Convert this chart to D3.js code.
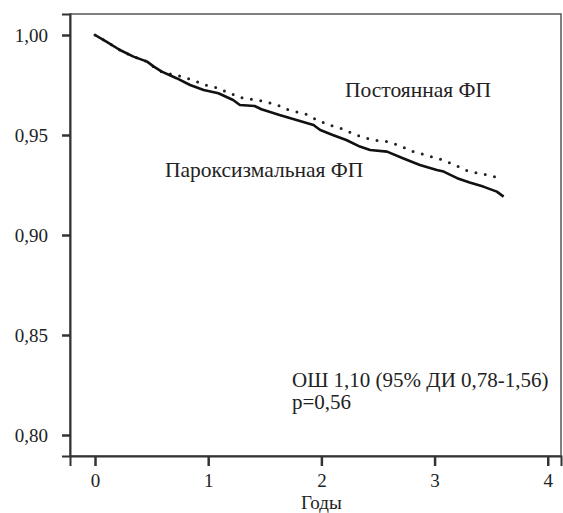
<!DOCTYPE html>
<html>
<head>
<meta charset="utf-8">
<script src="https://cdn.jsdelivr.net/npm/d3@7"></script>
<style>
  body { margin: 0; background: #fff; }
  svg text { font-family: "Liberation Serif", "DejaVu Serif", serif; fill: #222; }
  .axis path, .axis line { stroke: #333; }
</style>
</head>
<body>
<div id="chart"></div>
<script>
// Years since inclusion and survival fraction
var paroxTime = [0, 0.10, 0.22, 0.34, 0.46, 0.52, 0.59, 0.72, 0.84, 0.96, 1.09, 1.22, 1.28, 1.41, 1.47, 1.63, 1.78, 1.93, 1.99, 2.10, 2.22, 2.34, 2.43, 2.58, 2.72, 2.87, 3.02, 3.08, 3.20, 3.31, 3.43, 3.55, 3.61];
var paroxSurv = [1.000, 0.9967, 0.9925, 0.9892, 0.9867, 0.9842, 0.9817, 0.9784, 0.9750, 0.9725, 0.9709, 0.9675, 0.9650, 0.9645, 0.9629, 0.9600, 0.9575, 0.9550, 0.9525, 0.9500, 0.9475, 0.9442, 0.9425, 0.9417, 0.9384, 0.9350, 0.9325, 0.9317, 0.9284, 0.9262, 0.9242, 0.9217, 0.9192];

var persTime = [0, 0.10, 0.22, 0.34, 0.46, 0.55, 0.63, 0.72, 0.81, 0.90, 0.97, 1.05, 1.13, 1.20, 1.25, 1.35, 1.44, 1.53, 1.61, 1.69, 1.77, 1.86, 1.93, 2.00, 2.06, 2.15, 2.24, 2.31, 2.40, 2.49, 2.58, 2.65, 2.72, 2.81, 2.89, 2.97, 3.05, 3.12, 3.20, 3.27, 3.36, 3.43, 3.50, 3.59];
var persSurv = [1.000, 0.9967, 0.9925, 0.9892, 0.9867, 0.9825, 0.9809, 0.9800, 0.9784, 0.9767, 0.9750, 0.9742, 0.9722, 0.9709, 0.9692, 0.9680, 0.9675, 0.9662, 0.9650, 0.9629, 0.9617, 0.9605, 0.9584, 0.9567, 0.9550, 0.9539, 0.9517, 0.9500, 0.9484, 0.9472, 0.9467, 0.9455, 0.9439, 0.9417, 0.9405, 0.9392, 0.9379, 0.9364, 0.9345, 0.9325, 0.9312, 0.9305, 0.9295, 0.9284];

var yTicks = [0.80, 0.85, 0.90, 0.95, 1.00];
var xTicks = [0, 1, 2, 3, 4];
var labelPersistent = "Постоянная ФП";
var labelParoxysmal = "Пароксизмальная ФП";
var statLines = ["ОШ 1,10 (95% ДИ 0,78-1,56)", "p=0,56"];
var xTitle = "Годы";

var W = 563, H = 513;
var margin = {top: 14, right: 2, bottom: 57, left: 70},
    width = W - margin.left - margin.right,
    height = H - margin.top - margin.bottom;

var x = d3.scaleLinear().domain([-0.221, 4.117]).range([0, width]);
var y = d3.scaleLinear().domain([0.7895, 1.0105]).range([height, 0]);

var ru = d3.formatLocale({decimal: ",", thousands: " ", grouping: [3], currency: ["", ""]});

var svg = d3.select("#chart").append("svg")
    .attr("width", W)
    .attr("height", H)
  .append("g")
    .attr("transform", "translate(" + margin.left + "," + margin.top + ")");

// frame
svg.append("rect")
    .attr("width", width)
    .attr("height", height)
    .attr("fill", "none")
    .attr("stroke", "#555")
    .attr("stroke-width", 1.5);

// y axis
var yAxis = svg.append("g")
    .attr("class", "axis")
    .call(d3.axisLeft(y).tickValues(yTicks).tickFormat(ru.format(".2f")).tickSize(8).tickPadding(14));
yAxis.selectAll("text").style("font-size", "19px").attr("fill", "#222");
yAxis.selectAll("line").attr("stroke-width", 2.5);
yAxis.select(".domain").attr("stroke-width", 2);

// x axis
var xAxis = svg.append("g")
    .attr("class", "axis")
    .attr("transform", "translate(0," + height + ")")
    .call(d3.axisBottom(x).tickValues(xTicks).tickFormat(d3.format("d")).tickSize(10).tickPadding(8));
xAxis.selectAll("text").style("font-size", "19px").attr("fill", "#222");
xAxis.selectAll("line").attr("stroke-width", 2.5);
xAxis.select(".domain").attr("stroke-width", 2);

svg.append("text")
    .attr("x", x(2))
    .attr("y", height + 53)
    .attr("text-anchor", "middle")
    .style("font-size", "19px")
    .text(xTitle);

var line = d3.line()
    .x(function(d) { return x(d[0]); })
    .y(function(d) { return y(d[1]); });

var persData = persTime.map(function(t, i) { return [t, persSurv[i]]; });
var paroxData = paroxTime.map(function(t, i) { return [t, paroxSurv[i]]; });

svg.append("path")
    .datum(persData)
    .attr("d", line)
    .attr("fill", "none")
    .attr("stroke", "#222")
    .attr("stroke-width", 3)
    .attr("stroke-linecap", "round")
    .attr("stroke-dasharray", "0,9.5");

svg.append("path")
    .datum(paroxData)
    .attr("d", line)
    .attr("fill", "none")
    .attr("stroke", "#111")
    .attr("stroke-width", 2.6)
    .attr("stroke-linejoin", "round");

// labels
svg.append("text")
    .attr("x", 345 - margin.left)
    .attr("y", 97 - margin.top)
    .style("font-size", "21.5px")
    .text(labelPersistent);

svg.append("text")
    .attr("x", 165 - margin.left)
    .attr("y", 177 - margin.top)
    .style("font-size", "21.5px")
    .text(labelParoxysmal);

svg.selectAll(".stat")
    .data(statLines)
    .join("text")
    .attr("class", "stat")
    .attr("x", 292 - margin.left)
    .attr("y", function(d, i) { return 387 - margin.top + i * 22; })
    .style("font-size", "21px")
    .text(function(d) { return d; });
</script>
</body>
</html>
